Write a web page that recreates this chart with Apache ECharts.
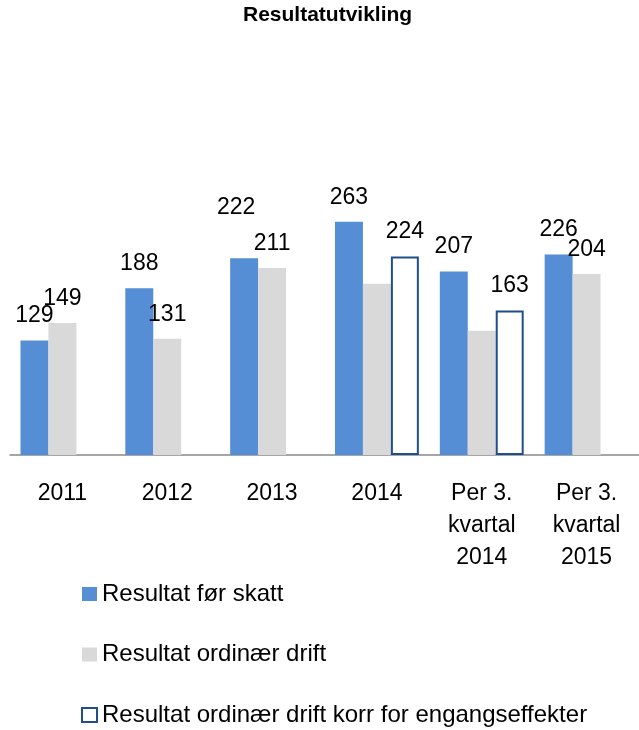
<!DOCTYPE html>
<html>
<head>
<meta charset="utf-8">
<script src="https://cdn.jsdelivr.net/npm/echarts@6/dist/echarts.min.js"></script>
<style>
  html, body { margin: 0; padding: 0; background: #fff; }
  #chart { width: 639px; height: 730px; }
</style>
</head>
<body>
<div id="chart"></div>
<script>
// kategorier og verdier (lest av bildet)
var categories = ['2011', '2012', '2013', '2014', 'Per 3.\nkvartal\n2014', 'Per 3.\nkvartal\n2015'];
var resultatForSkatt = [129, 188, 222, 263, 207, 226];
var resultatOrdinaer = [149, 131, 211, 193, 140, 204];
var resultatKorr = [null, null, null, 224, 163, null];
// hvilke grå søyler som har etikett
var ordinaerLabel = [true, true, true, false, false, true];

var font = 'Liberation Sans';

var dom = document.getElementById('chart');
var myChart = echarts.init(dom);

var blueData = [];
for (var i = 0; i < resultatForSkatt.length; i++) {
    var d = { value: resultatForSkatt[i] };
    if (i == 2) {
        // etiketten for 2013 er flyttet litt opp/venstre i originalen
        d.label = { offset: [-8, -26] };
    }
    blueData.push(d);
}
var grayData = [];
for (var i = 0; i < resultatOrdinaer.length; i++) {
    grayData.push({ value: resultatOrdinaer[i], label: { show: ordinaerLabel[i] } });
}

var labelStyle = { show: true, position: 'top', distance: 13, fontFamily: font, fontSize: 23, color: '#000' };

var option = {
    animation: false,
    title: {
        text: 'Resultatutvikling',
        left: 243,
        top: 5,
        padding: 0,
        textStyle: { fontFamily: font, fontSize: 21, fontWeight: 'bold', color: '#000' }
    },
    legend: {
        orient: 'vertical',
        left: 81,
        top: 582,
        padding: 0,
        height: 200,
        itemWidth: 15,
        itemHeight: 14,
        itemGap: 36.5,
        icon: 'rect',
        textStyle: { fontFamily: font, fontSize: 24, lineHeight: 24, color: '#000' },
        data: ['Resultat før skatt', 'Resultat ordinær drift', 'Resultat ordinær drift korr for engangseffekter']
    },
    grid: {
        left: 10,
        right: -8,
        top: 189,
        bottom: 275,
        containLabel: false
    },
    xAxis: {
        type: 'category',
        data: categories,
        axisLine: { lineStyle: { color: '#898989', width: 1.5 } },
        axisTick: { show: false },
        axisLabel: {
            interval: 0,
            margin: 23,
            fontFamily: font,
            fontSize: 23,
            lineHeight: 32,
            color: '#000'
        }
    },
    yAxis: {
        type: 'value',
        min: 0,
        max: 300,
        show: false,
        splitLine: { show: false }
    },
    series: [
        {
            name: 'Resultat før skatt',
            type: 'bar',
            barGap: '0%',
            barCategoryGap: '20%',
            itemStyle: { color: '#558ED5' },
            label: labelStyle,
            data: blueData
        },
        {
            name: 'Resultat ordinær drift',
            type: 'bar',
            barGap: '0%',
            barCategoryGap: '20%',
            itemStyle: { color: '#D9D9D9' },
            label: labelStyle,
            data: grayData
        },
        {
            name: 'Resultat ordinær drift korr for engangseffekter',
            type: 'bar',
            barGap: '0%',
            barCategoryGap: '20%',
            itemStyle: { color: '#ffffff', borderColor: '#1F4E8C', borderWidth: 2 },
            label: labelStyle,
            data: resultatKorr
        }
    ]
};
myChart.setOption(option, true);
</script>
</body>
</html>
